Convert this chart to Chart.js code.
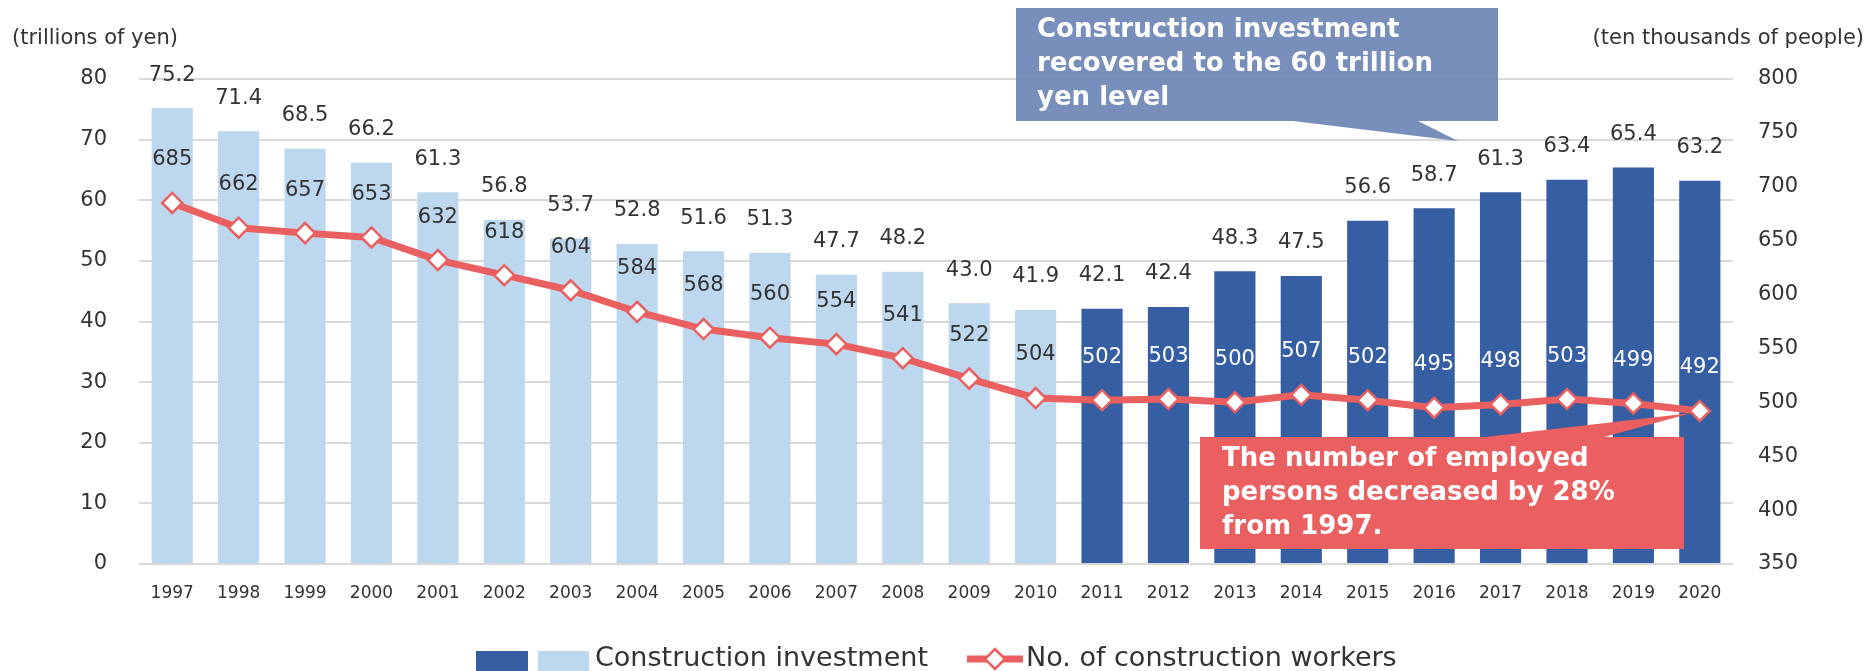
<!DOCTYPE html>
<html lang="en">
<head>
<meta charset="UTF-8">
<title>Construction investment and construction workers</title>
<script src="https://cdn.jsdelivr.net/npm/chart.js"></script>
<style>
  html, body { margin: 0; padding: 0; background: #fff; }
  #wrap { width: 1873px; height: 671px; }
</style>
</head>
<body>
<div id="wrap"><canvas id="myChart" width="1873" height="671"></canvas></div>
<script>
// ---- data ----
const years = ['1997','1998','1999','2000','2001','2002','2003','2004','2005','2006','2007','2008',
               '2009','2010','2011','2012','2013','2014','2015','2016','2017','2018','2019','2020'];
// trillions of yen
const investment = [75.2, 71.4, 68.5, 66.2, 61.3, 56.8, 53.7, 52.8, 51.6, 51.3, 47.7, 48.2,
                    43.0, 41.9, 42.1, 42.4, 48.3, 47.5, 56.6, 58.7, 61.3, 63.4, 65.4, 63.2];
// ten thousands of people
const workers = [685, 662, 657, 653, 632, 618, 604, 584, 568, 560, 554, 541,
                 522, 504, 502, 503, 500, 507, 502, 495, 498, 503, 499, 492];
const lastLightYear = 2010;

const leftTitle = '(trillions of yen)';
const rightTitle = '(ten thousands of people)';
const blueNote = ['Construction investment', 'recovered to the 60 trillion', 'yen level'];
const redNote = ['The number of employed', 'persons decreased by 28%', 'from 1997.'];
const legendBars = 'Construction investment';
const legendLine = 'No. of construction workers';

// ---- styling ----
const FONT = '"DejaVu Sans", Verdana, sans-serif';
const TEXT = '#333333';
const LIGHT = '#BDD7EE';
const DARK = '#365EA3';
const RED = '#EA5F5F';
const GRID = '#D9D9D9';

const barColors = years.map(y => (+y > lastLightYear ? DARK : LIGHT));

function diamond(ctx, x, y, r) {
  ctx.beginPath();
  ctx.moveTo(x, y - r);
  ctx.lineTo(x + r, y);
  ctx.lineTo(x, y + r);
  ctx.lineTo(x - r, y);
  ctx.closePath();
  ctx.fillStyle = '#fff';
  ctx.fill();
  ctx.lineWidth = 2.5;
  ctx.strokeStyle = RED;
  ctx.stroke();
}

const overlay = {
  id: 'overlay',
  afterDatasetsDraw(chart) {
    const ctx = chart.ctx;
    ctx.save();
    ctx.font = '21px ' + FONT;
    ctx.textAlign = 'center';
    ctx.textBaseline = 'middle';
    chart.getDatasetMeta(0).data.forEach((bar, i) => {
      ctx.fillStyle = TEXT;
      ctx.fillText(investment[i].toFixed(1), bar.x, bar.y - 33);
    });
    chart.getDatasetMeta(1).data.forEach((pt, i) => {
      ctx.fillStyle = +years[i] > lastLightYear ? '#fff' : TEXT;
      ctx.fillText(String(workers[i]), pt.x, pt.y - 43);
    });
    ctx.restore();
  },
  afterDraw(chart) {
    const ctx = chart.ctx;
    ctx.save();

    // axis titles
    ctx.font = '21px ' + FONT;
    ctx.fillStyle = TEXT;
    ctx.textBaseline = 'middle';
    ctx.textAlign = 'left';
    ctx.fillText(leftTitle, 12, 39);
    ctx.textAlign = 'right';
    ctx.fillText(rightTitle, 1864, 39);

    // blue callout
    ctx.beginPath();
    ctx.moveTo(1016, 8);
    ctx.lineTo(1498, 8);
    ctx.lineTo(1498, 121);
    ctx.lineTo(1418, 121);
    ctx.lineTo(1458, 141);
    ctx.lineTo(1293, 121);
    ctx.lineTo(1016, 121);
    ctx.closePath();
    ctx.fillStyle = 'rgba(100,128,176,0.88)';
    ctx.fill();
    ctx.font = 'bold 26px ' + FONT;
    ctx.fillStyle = '#fff';
    ctx.textAlign = 'left';
    ctx.textBaseline = 'alphabetic';
    blueNote.forEach((t, i) => ctx.fillText(t, 1037, 37 + i * 34));

    // red callout pointing at the last worker point
    const last = chart.getDatasetMeta(1).data[workers.length - 1];
    ctx.beginPath();
    ctx.moveTo(1200, 437);
    ctx.lineTo(1485, 437);
    ctx.lineTo(last.x - 8, last.y + 2);
    ctx.lineTo(1604, 437);
    ctx.lineTo(1684, 437);
    ctx.lineTo(1684, 549);
    ctx.lineTo(1200, 549);
    ctx.closePath();
    ctx.fillStyle = RED;
    ctx.fill();
    ctx.fillStyle = '#fff';
    redNote.forEach((t, i) => ctx.fillText(t, 1222, 466 + i * 34));

    // legend
    ctx.fillStyle = DARK;
    ctx.fillRect(476, 651, 52, 20);
    ctx.fillStyle = LIGHT;
    ctx.fillRect(538, 651, 51, 20);
    ctx.font = '27px ' + FONT;
    ctx.fillStyle = TEXT;
    ctx.textBaseline = 'middle';
    ctx.fillText(legendBars, 595, 659);
    ctx.beginPath();
    ctx.moveTo(967, 659);
    ctx.lineTo(1023, 659);
    ctx.lineWidth = 7;
    ctx.strokeStyle = RED;
    ctx.stroke();
    diamond(ctx, 995, 659, 10);
    ctx.fillStyle = TEXT;
    ctx.fillText(legendLine, 1026, 659);

    ctx.restore();
  }
};

new Chart(document.getElementById('myChart').getContext('2d'), {
  type: 'bar',
  data: {
    labels: years,
    datasets: [
      {
        label: legendBars,
        data: investment,
        backgroundColor: barColors,
        yAxisID: 'y',
        categoryPercentage: 1,
        barPercentage: 0.62,
        order: 2
      },
      {
        type: 'line',
        label: legendLine,
        data: workers,
        yAxisID: 'y1',
        borderColor: RED,
        borderWidth: 7,
        tension: 0,
        pointStyle: 'rectRot',
        pointRadius: 10,
        pointBackgroundColor: '#fff',
        pointBorderColor: RED,
        pointBorderWidth: 2.5,
        order: 1
      }
    ]
  },
  plugins: [overlay],
  options: {
    responsive: false,
    animation: false,
    devicePixelRatio: 1,
    layout: { padding: { top: 79, bottom: 0, left: 0, right: 0 } },
    plugins: {
      legend: { display: false },
      tooltip: { enabled: false }
    },
    scales: {
      x: {
        grid: { display: false },
        border: { display: false },
        ticks: { font: { family: FONT, size: 17 }, color: TEXT, padding: 11, maxRotation: 0, autoSkip: false },
        afterFit: s => { s.height = 107; }
      },
      y: {
        position: 'left',
        min: 0, max: 80,
        ticks: { stepSize: 10, font: { family: FONT, size: 21 }, color: TEXT, padding: 32 },
        grid: { color: GRID, lineWidth: 2, drawTicks: false },
        border: { display: false },
        afterFit: s => { s.width = 139; }
      },
      y1: {
        position: 'right',
        min: 350, max: 800,
        ticks: { stepSize: 50, font: { family: FONT, size: 21 }, color: TEXT, padding: 25 },
        grid: { display: false, drawTicks: false },
        border: { display: false },
        afterFit: s => { s.width = 140; }
      }
    }
  }
});
</script>
</body>
</html>
